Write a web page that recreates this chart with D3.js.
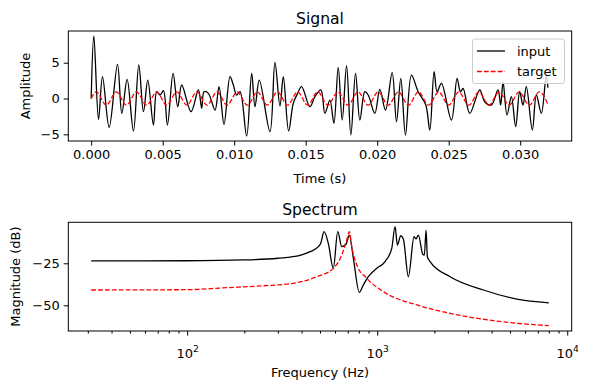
<!DOCTYPE html>
<html>
<head>
<meta charset="utf-8">
<script src="https://cdn.jsdelivr.net/npm/d3@7"></script>
<style>
	body { margin: 0; background: #fff; }
	svg text { font-family: "DejaVu Sans", sans-serif; fill: #000; }
</style>
</head>
<body>
<div id="canvas"></div>
<script>
// signal (top) - extrema
var sigT = [0, 0.000186, 0.000512, 0.000791, 0.001257, 0.001839, 0.002142, 0.002514, 0.002956, 0.003329,
	0.003655, 0.003958, 0.004353, 0.004587, 0.004819, 0.005052, 0.005331, 0.005727, 0.006053, 0.006333,
	0.006984, 0.007496, 0.007729, 0.007892, 0.008195, 0.008660, 0.008940, 0.009289, 0.009708, 0.009941,
	0.010174, 0.010407, 0.010872, 0.011222, 0.011454, 0.011757, 0.012502, 0.012851, 0.013200, 0.013433,
	0.013806, 0.014131, 0.014434, 0.014714, 0.015295, 0.015645, 0.016064, 0.016343, 0.016692, 0.016972,
	0.017274, 0.017554, 0.017857, 0.018159, 0.018485, 0.018788, 0.019137, 0.019370, 0.019835, 0.020184,
	0.020580, 0.021046, 0.021349, 0.021651, 0.021977, 0.022396, 0.022862, 0.023397, 0.023677, 0.023979,
	0.024189, 0.024492, 0.025190, 0.025586, 0.025819, 0.026005, 0.026471, 0.027169, 0.027518, 0.027984,
	0.028449, 0.028635, 0.028798, 0.029077, 0.029380, 0.029683, 0.029962, 0.030195, 0.030428, 0.030847,
	0.031126, 0.031476, 0.031825, 0.031937];
var sigV = [0.0, 8.73, -2.91, 3.05, -4.03, 4.77, -2.07, 2.68, -4.54, 4.68,
	-1.84, 2.58, -3.70, 0.95, 0.49, 1.09, -3.70, 3.52, -1.14, 1.89,
	-1.84, 1.19, -1.37, 0.95, 0.72, -1.61, 1.65, -3.61, 3.05, 1.89,
	0.49, 0.95, -5.23, 3.52, -1.14, 2.58, -4.63, 5.05, -1.05, 3.05,
	-4.54, -0.67, 0.72, 1.65, -1.14, 0.26, 1.19, -2.07, -0.21, -3.47,
	4.35, -3.00, 4.59, -5.10, 3.52, -3.00, 0.95, 0.49, -2.07, 1.28,
	-1.61, 3.61, -3.24, 2.82, -5.10, 3.28, 0.95, -0.91, -4.40, 3.75,
	0.95, 2.12, -3.00, 2.82, 0.95, 1.42, -2.07, 1.19, -0.44, -0.91,
	1.19, -0.91, 2.35, -2.30, 0.26, -3.93, 0.95, -0.91, 1.65, -4.40,
	0.49, -2.07, 3.28, 1.50];

var tgtT = [0, 0.000352, 0.001056, 0.001761, 0.002465, 0.003169, 0.003873, 0.004577, 0.005282, 0.005986,
	0.006690, 0.007394, 0.008099, 0.008803, 0.009507, 0.010211, 0.010915, 0.011620, 0.012324, 0.013028,
	0.013732, 0.014437, 0.015141, 0.015845, 0.016549, 0.017254, 0.017958, 0.018662, 0.019366, 0.020070,
	0.020775, 0.021479, 0.022183, 0.022887, 0.023592, 0.024296, 0.025000, 0.025704, 0.026408, 0.027113,
	0.027817, 0.028521, 0.029225, 0.029930, 0.030634, 0.031338, 0.031937];
var tgtV = [0, 0.93, -0.93, 0.93, -0.93, 0.93, -0.93, 0.93, -0.93, 0.93,
	-0.93, 0.93, -0.93, 0.93, -0.93, 0.93, -0.93, 0.93, -0.93, 0.93,
	-0.93, 0.93, -0.93, 0.93, -0.93, 0.93, -0.93, 0.93, -0.93, 0.93,
	-0.93, 0.93, -0.93, 0.93, -0.93, 0.93, -0.93, 0.93, -0.93, 0.93,
	-0.93, 0.93, -0.93, 0.93, -0.93, 0.93, -0.80];

// spectrum (bottom)
var freqIn = [31.25, 100, 200, 300, 392.6, 443.6, 490, 504.6, 525, 553, 587.7, 620, 650.8, 685.6, 713.6,
	749, 805.4, 845.5, 898.3, 994.7, 1100, 1193, 1242, 1277, 1330, 1373, 1459, 1563, 1602, 1647,
	1737, 1771, 1808, 1837, 1898, 2418, 3622, 5427, 8000];
var magIn = [-23.6, -23.5, -23.0, -22.0, -20.3, -18.1, -15.1, -13.1, -6.2, -13.1, -28.0, -6.2, -15.1, -13.7, -8.2,
	-22.0, -42.3, -37.9, -33.0, -28.0, -24.0, -16.1, -3.2, -14.1, -8.6, -10.5, -33.0, -9.2, -10.5, -8.2,
	-19.6, -20.1, -5.2, -21.1, -24.0, -33.0, -40.9, -46.3, -48.5];
var freqTg = [31.25, 100, 161.5, 250, 362, 480.8, 587.7, 650.8, 691.5, 713.6, 734.5, 780.5, 881,
	1077.5, 1616, 2418, 3622, 5427, 8000];
var magTg = [-40.9, -40.7, -39.5, -38.4, -36.9, -33.0, -28.0, -20.1, -11.1, -6.2, -15.1, -26.0, -33.9,
	-41.9, -49.8, -54.8, -58.3, -60.7, -62.1];

var timeTicks = [0, 0.005, 0.010, 0.015, 0.020, 0.025, 0.030];
var ampTicks = [-5, 0, 5];
var freqTicks = [100, 1000, 10000];
var magTicks = [-50, -25];

var W = 589, H = 389;
var svg = d3.select("#canvas").append("svg")
	.attr("width", W)
	.attr("height", H);

var fs = 13;
var minus = function(s){ return s.replace("-", "\u2212"); };

// ---------- top: Signal ----------
var x1 = d3.scaleLinear().domain([-0.0016, 0.0336]).range([68.3, 571.7]);
var y1 = d3.scaleLinear().domain([-5.93, 9.43]).range([141, 31]);

var g1 = svg.append("g");

var line1 = d3.line()
	.x(function(d){ return x1(d[0]); })
	.y(function(d){ return y1(d[1]); })
	.curve(d3.curveCatmullRom.alpha(0.5));

var lineTgt = d3.line()
	.x(function(d){ return x1(d[0]); })
	.y(function(d){ return y1(d[1]); })
	.curve(d3.curveMonotoneX);

g1.append("path")
	.datum(d3.zip(sigT, sigV))
	.attr("d", line1)
	.attr("fill", "none")
	.attr("stroke", "#000")
	.attr("stroke-width", 1.3);

g1.append("path")
	.datum(d3.zip(tgtT, tgtV))
	.attr("d", lineTgt)
	.attr("fill", "none")
	.attr("stroke", "red")
	.attr("stroke-width", 1.3)
	.attr("stroke-dasharray", "4.8,2.1");

g1.append("g")
	.attr("transform", "translate(0,141)")
	.call(d3.axisBottom(x1).tickValues(timeTicks).tickFormat(d3.format(".3f")).tickSize(4.6).tickPadding(4))
	.call(styleAxis);

g1.append("g")
	.attr("transform", "translate(68.3,0)")
	.call(d3.axisLeft(y1).tickValues(ampTicks).tickFormat(function(d){ return minus(String(d)); }).tickSize(4.6).tickPadding(4))
	.call(styleAxis);

g1.append("rect")
	.attr("x", 68.3).attr("y", 31)
	.attr("width", 571.7 - 68.3).attr("height", 110)
	.attr("fill", "none").attr("stroke", "#000").attr("stroke-width", 1);

g1.append("text")
	.attr("x", 320).attr("y", 23.5)
	.attr("text-anchor", "middle")
	.attr("font-size", 15.6)
	.text("Signal");

g1.append("text")
	.attr("x", 320).attr("y", 183)
	.attr("text-anchor", "middle")
	.attr("font-size", fs)
	.text("Time (s)");

g1.append("text")
	.attr("transform", "translate(30,86) rotate(-90)")
	.attr("text-anchor", "middle")
	.attr("font-size", fs)
	.text("Amplitude");

// legend
var leg = g1.append("g");
leg.append("rect")
	.attr("x", 472.5).attr("y", 39)
	.attr("width", 92).attr("height", 44.5)
	.attr("rx", 2.6)
	.attr("fill", "#fff").attr("fill-opacity", 0.8)
	.attr("stroke", "#cccccc").attr("stroke-width", 1);
leg.append("line")
	.attr("x1", 477).attr("x2", 505).attr("y1", 51).attr("y2", 51)
	.attr("stroke", "#000").attr("stroke-width", 1.3);
leg.append("line")
	.attr("x1", 477).attr("x2", 505).attr("y1", 71.5).attr("y2", 71.5)
	.attr("stroke", "red").attr("stroke-width", 1.3)
	.attr("stroke-dasharray", "4.8,2.1");
leg.append("text").attr("x", 517).attr("y", 55.5).attr("font-size", fs).text("input");
leg.append("text").attr("x", 517).attr("y", 76).attr("font-size", fs).text("target");

// ---------- bottom: Spectrum ----------
var x2 = d3.scaleLog().domain([Math.pow(10, 1.3745), Math.pow(10, 4.0235)]).range([68.3, 571.7]);
var y2 = d3.scaleLinear().domain([-65.3, -0.6]).range([331, 222.3]);

var g2 = svg.append("g");

var line2 = d3.line()
	.x(function(d){ return x2(d[0]); })
	.y(function(d){ return y2(d[1]); })
	.curve(d3.curveMonotoneX);

g2.append("path")
	.datum(d3.zip(freqIn, magIn))
	.attr("d", line2)
	.attr("fill", "none")
	.attr("stroke", "#000")
	.attr("stroke-width", 1.3);

g2.append("path")
	.datum(d3.zip(freqTg, magTg))
	.attr("d", line2)
	.attr("fill", "none")
	.attr("stroke", "red")
	.attr("stroke-width", 1.3)
	.attr("stroke-dasharray", "4.8,2.1");

var minors = [];
[10, 100, 1000].forEach(function(dec){
	for(var k = 2; k <= 9; k++){
		var v = dec * k;
		if(v > x2.domain()[0] && v < x2.domain()[1]) minors.push(v);
	}
});

g2.append("g")
	.attr("transform", "translate(0,331)")
	.call(d3.axisBottom(x2).tickValues(minors).tickFormat("").tickSize(2.6))
	.call(styleAxis);

var xAx2 = g2.append("g")
	.attr("transform", "translate(0,331)")
	.call(d3.axisBottom(x2).tickValues(freqTicks).tickFormat("").tickSize(4.6))
	.call(styleAxis);

xAx2.selectAll(".tick").append("text")
	.attr("y", 27)
	.attr("text-anchor", "middle")
	.attr("font-size", fs)
	.each(function(d){
		var t = d3.select(this);
		t.append("tspan").text("10");
		t.append("tspan").attr("dy", -6).attr("font-size", 9.2).text(String(Math.round(Math.log10(d))));
	});

g2.append("g")
	.attr("transform", "translate(68.3,0)")
	.call(d3.axisLeft(y2).tickValues(magTicks).tickFormat(function(d){ return minus(String(d)); }).tickSize(4.6).tickPadding(4))
	.call(styleAxis);

g2.append("rect")
	.attr("x", 68.3).attr("y", 222.3)
	.attr("width", 571.7 - 68.3).attr("height", 331 - 222.3)
	.attr("fill", "none").attr("stroke", "#000").attr("stroke-width", 1);

g2.append("text")
	.attr("x", 320).attr("y", 214.5)
	.attr("text-anchor", "middle")
	.attr("font-size", 15.6)
	.text("Spectrum");

g2.append("text")
	.attr("x", 320).attr("y", 377)
	.attr("text-anchor", "middle")
	.attr("font-size", fs)
	.text("Frequency (Hz)");

g2.append("text")
	.attr("transform", "translate(20,276.6) rotate(-90)")
	.attr("text-anchor", "middle")
	.attr("font-size", fs)
	.text("Magnitude (dB)");

function styleAxis(sel){
	sel.select(".domain").remove();
	sel.selectAll(".tick line").attr("stroke", "#000").attr("stroke-width", 1);
	sel.selectAll(".tick text")
		.attr("font-family", "DejaVu Sans, sans-serif")
		.attr("font-size", fs)
		.attr("fill", "#000");
}
</script>
</body>
</html>
